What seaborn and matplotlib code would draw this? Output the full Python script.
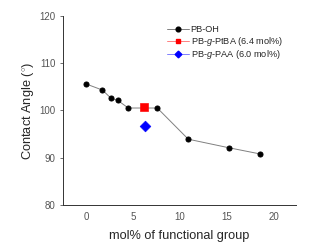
import numpy as np
import matplotlib
matplotlib.use("Agg")
import matplotlib.pyplot as plt
import seaborn as sns
import pandas as pd
from matplotlib.lines import Line2D

# PB-OH series
mol_oh = [0.0, 1.75, 2.65, 3.4, 4.5, 7.6, 10.9, 15.2, 18.5]
angle_oh = [105.6, 104.3, 102.6, 102.1, 100.5, 100.5, 93.9, 92.1, 90.8]
# grafted samples
mol_ptba = [6.2]
angle_ptba = [100.7]
mol_paa = [6.25]
angle_paa = [96.7]

sns.set_style("white")
plt.rcParams['font.family'] = ['Liberation Sans', 'DejaVu Sans']
plt.rcParams['mathtext.fontset'] = 'custom'
plt.rcParams['mathtext.rm'] = 'Liberation Sans'
plt.rcParams['mathtext.it'] = 'Liberation Sans:italic'

fig = plt.figure(figsize=(3.36, 2.52), dpi=100)
ax = fig.add_axes([0.1875, 0.187, 0.694, 0.750])

df = pd.DataFrame({'mol': mol_oh, 'angle': angle_oh})
sns.lineplot(data=df, x='mol', y='angle', ax=ax, color='#808080', lw=0.7,
             marker='o', markersize=3.6, markerfacecolor='black',
             markeredgecolor='black', sort=False)
sns.scatterplot(x=mol_ptba, y=angle_ptba, ax=ax, marker='s', s=30,
                color='#ff0000', edgecolor='#ff0000', zorder=5)
sns.scatterplot(x=mol_paa, y=angle_paa, ax=ax, marker='D', s=30,
                color='#0000ff', edgecolor='#0000ff', zorder=5)

ax.set_xlim(-2.45, 22.4)
ax.set_ylim(80, 120)
ax.set_xticks([0, 5, 10, 15, 20])
ax.set_yticks([80, 90, 100, 110, 120])
ax.set_xlabel('mol% of functional group', fontsize=9.2, labelpad=6)
ax.set_ylabel('Contact Angle ($^{\\circ}$)', fontsize=9.2, labelpad=2)
ax.tick_params(axis='both', labelsize=7, labelcolor='#555555', color='#555555',
               width=0.6, direction='out', bottom=True, left=True)
ax.tick_params(axis='y', length=2)
ax.tick_params(axis='x', length=0, pad=5)
for s in ['top', 'right']:
    ax.spines[s].set_visible(False)
for s in ['left', 'bottom']:
    ax.spines[s].set_color('#333333')
    ax.spines[s].set_linewidth(0.7)

handles = [
    Line2D([], [], color='#808080', lw=0.7, marker='o', markersize=3.4,
           mfc='black', mec='black'),
    Line2D([], [], color='#ff8080', lw=0.7, marker='s', markersize=3.4,
           mfc='#ff0000', mec='#ff0000'),
    Line2D([], [], color='#8080ff', lw=0.7, marker='D', markersize=3.4,
           mfc='#0000ff', mec='#0000ff'),
]
labels = ['PB-OH', 'PB-$\\it{g}$-PtBA (6.4 mol%)', 'PB-$\\it{g}$-PAA (6.0 mol%)']
ax.legend(handles, labels, loc='upper left', bbox_to_anchor=(0.445, 0.95),
          frameon=False, fontsize=6.6, handlelength=2.4, handletextpad=0.2,
          labelspacing=0.05, borderaxespad=0, borderpad=0)

fig.savefig('out.png', dpi=100)
